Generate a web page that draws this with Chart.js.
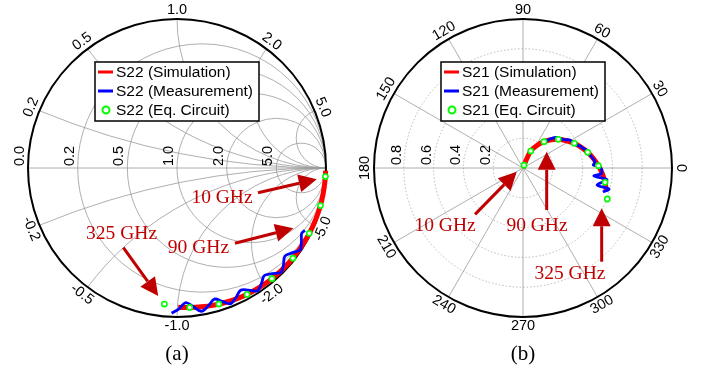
<!DOCTYPE html>
<html>
<head>
<meta charset="utf-8">
<script src="https://cdn.jsdelivr.net/npm/chart.js@4.4.0/dist/chart.umd.min.js"></script>
<style>
  html, body { margin: 0; padding: 0; background: #fff; }
  #wrap { position: relative; width: 707px; height: 372px; overflow: hidden; }
  canvas { position: absolute; top: 0; }
  #smith { left: 0; }
  #polar { left: 346px; }
</style>
</head>
<body>
<div id="wrap">
  <canvas id="smith" width="354" height="372"></canvas>
  <canvas id="polar" width="354" height="372"></canvas>
</div>
<script>
// S22 (reflection), magnitude and phase in degrees
const s22SimDeg = [-1, -5, -10, -15, -20, -25, -30, -35, -40, -45, -50, -55, -60, -65, -70, -75, -80, -85, -89.5];
const s22SimMag = [0.998, 0.997, 0.996, 0.995, 0.993, 0.991, 0.989, 0.986, 0.984, 0.981, 0.978, 0.974, 0.970, 0.965, 0.959, 0.953, 0.946, 0.940, 0.935];
const s22MeasDeg = [-92.1, -89.2, -86.3, -83.4, -80.4, -77.3, -74.1, -71.3, -68.5, -65.5, -62.5, -59.6, -56.7, -53.8, -50.9, -48.0, -45.1, -42.2, -39.3, -36.4, -33.5, -30.6, -27.7, -26.0];
const s22MeasMag = [0.975, 0.945, 0.905, 0.935, 0.975, 0.950, 0.915, 0.945, 0.980, 0.955, 0.925, 0.950, 0.985, 0.960, 0.930, 0.955, 0.988, 0.965, 0.935, 0.960, 0.992, 0.970, 0.945, 0.955];
const s22EqDeg = [-3.3, -14.7, -26.3, -37.9, -49.4, -61.0, -72.9, -84.8, -95.3];
const s22EqMag = [0.998, 0.995, 0.990, 0.986, 0.979, 0.970, 0.955, 0.940, 0.917];

// S21 (transmission), magnitude and phase in degrees
const s21SimDeg = [72, 68, 65.6, 58, 51.4, 45, 39.1, 32, 25.7, 19.5, 13.6, 7.5, 1.7, -4, -9.9, -15];
const s21SimMag = [0, 0.06, 0.125, 0.18, 0.226, 0.268, 0.305, 0.345, 0.382, 0.415, 0.447, 0.478, 0.506, 0.533, 0.559, 0.578];
const s21MeasDeg = [50, 47, 43, 38.7, 34.5, 30.8, 26.2, 21, 18, 15.8, 11, 5, 2.4, 1, -3.9, -6.4, -8.1, -12.9, -13.7, -16.7];
const s21MeasMag = [0.23, 0.266, 0.30, 0.318, 0.335, 0.367, 0.376, 0.41, 0.425, 0.444, 0.458, 0.485, 0.472, 0.517, 0.529, 0.479, 0.57, 0.51, 0.594, 0.56];
const s21EqDeg = [70, 65.6, 51.4, 39.1, 25.7, 13.6, 1.7, -9.9, -20.2];
const s21EqMag = [0.02, 0.125, 0.226, 0.305, 0.382, 0.447, 0.506, 0.559, 0.603];

// grid ticks
const smithRes = [0, 0.2, 0.5, 1, 2, 5];
const smithReact = [0.2, 0.5, 1, 2, 5, -0.2, -0.5, -1, -2, -5];
const polarRings = [0.2, 0.4, 0.6, 0.8];
const polarAngles = [0, 30, 60, 90, 120, 150, 180, 210, 240, 270, 300, 330];

const darkRed = '#C00000';
const tickFont = '14.5px "Liberation Sans", Arial, sans-serif';

function toXY(mag, deg) {
    return mag.map((m, i) => ({
        x: m * Math.cos(deg[i] * Math.PI / 180),
        y: m * Math.sin(deg[i] * Math.PI / 180)
    }));
}

function geom(chart) {
    const sx = chart.scales.x, sy = chart.scales.y;
    const cx = sx.getPixelForValue(0), cy = sy.getPixelForValue(0);
    return { sx, sy, cx, cy, R: sx.getPixelForValue(1) - cx };
}

function rimLabel(ctx, cx, cy, rad, deg, text) {
    let d = deg > 180 ? deg - 360 : deg;
    const t = d * Math.PI / 180;
    const rot = d >= 0 ? 90 - d : -90 - d;
    ctx.save();
    ctx.translate(cx + rad * Math.cos(t), cy - rad * Math.sin(t));
    ctx.rotate(rot * Math.PI / 180);
    ctx.textAlign = 'center';
    ctx.textBaseline = 'middle';
    ctx.fillText(text, 0, 0);
    ctx.restore();
}

function axisLabel(ctx, px, py, text) {
    ctx.save();
    ctx.translate(px, py);
    ctx.rotate(-Math.PI / 2);
    ctx.textAlign = 'left';
    ctx.textBaseline = 'middle';
    ctx.fillText(text, 0, 0);
    ctx.restore();
}

function drawArrow(ctx, x0, y0, x1, y1) {
    const a = Math.atan2(y1 - y0, x1 - x0);
    const hl = 18, hw = 9;
    const bx = x1 - hl * Math.cos(a), by = y1 - hl * Math.sin(a);
    ctx.save();
    ctx.strokeStyle = darkRed;
    ctx.fillStyle = darkRed;
    ctx.lineWidth = 3;
    ctx.beginPath();
    ctx.moveTo(x0, y0);
    ctx.lineTo(bx, by);
    ctx.stroke();
    ctx.beginPath();
    ctx.moveTo(x1, y1);
    ctx.lineTo(bx + hw * Math.sin(a), by - hw * Math.cos(a));
    ctx.lineTo(bx - hw * Math.sin(a), by + hw * Math.cos(a));
    ctx.closePath();
    ctx.fill();
    ctx.restore();
}

// legend box, annotations and caption
const extras = {
    id: 'extras',
    afterDraw(chart, args, opts) {
        const { ctx, chartArea } = chart;
        const g = geom(chart);
        // legend
        const bx = chartArea.left + 67, by = chartArea.top + 43, bw = 164, bh = 59;
        ctx.save();
        ctx.fillStyle = '#fff';
        ctx.fillRect(bx, by, bw, bh);
        ctx.strokeStyle = '#000';
        ctx.lineWidth = 1.5;
        ctx.strokeRect(bx, by, bw, bh);
        ctx.font = '15.5px "Liberation Sans", Arial, sans-serif';
        ctx.textBaseline = 'middle';
        ctx.fillStyle = '#000';
        chart.data.datasets.forEach((ds, i) => {
            const yy = by + 10 + i * 19;
            if (ds.showLine) {
                ctx.strokeStyle = ds.borderColor;
                ctx.lineWidth = 3;
                ctx.beginPath();
                ctx.moveTo(bx + 3, yy);
                ctx.lineTo(bx + 18, yy);
                ctx.stroke();
            } else {
                ctx.strokeStyle = ds.borderColor;
                ctx.lineWidth = 2;
                ctx.beginPath();
                ctx.arc(bx + 11, yy, 3.5, 0, 2 * Math.PI);
                ctx.stroke();
            }
            ctx.fillText(ds.label, bx + 21, yy + 1);
        });
        // annotations
        ctx.font = '19.5px "Liberation Serif", "Times New Roman", serif';
        ctx.fillStyle = darkRed;
        ctx.textAlign = 'center';
        ctx.textBaseline = 'middle';
        opts.notes.forEach(n => {
            ctx.fillText(n.text, g.sx.getPixelForValue(n.tx), g.sy.getPixelForValue(n.ty));
            drawArrow(ctx, g.sx.getPixelForValue(n.ax), g.sy.getPixelForValue(n.ay),
                g.sx.getPixelForValue(n.hx), g.sy.getPixelForValue(n.hy));
        });
        // caption
        ctx.font = '21px "Liberation Serif", "Times New Roman", serif';
        ctx.fillStyle = '#000';
        ctx.fillText(opts.caption, g.cx, 354);
        ctx.restore();
    }
};

const smithGrid = {
    id: 'smithGrid',
    beforeDatasetsDraw(chart) {
        const { ctx } = chart;
        const { cx, cy, R } = geom(chart);
        ctx.save();
        ctx.beginPath();
        ctx.arc(cx, cy, R, 0, 2 * Math.PI);
        ctx.clip();
        ctx.strokeStyle = '#9a9a9a';
        ctx.lineWidth = 0.8;
        ctx.beginPath();
        ctx.moveTo(cx - R, cy);
        ctx.lineTo(cx + R, cy);
        ctx.stroke();
        smithRes.filter(r => r > 0).forEach(r => {
            ctx.beginPath();
            ctx.arc(cx + R * r / (1 + r), cy, R / (1 + r), 0, 2 * Math.PI);
            ctx.stroke();
        });
        smithReact.forEach(v => {
            ctx.beginPath();
            ctx.arc(cx + R, cy - R / v, R / Math.abs(v), 0, 2 * Math.PI);
            ctx.stroke();
        });
        ctx.restore();
        ctx.save();
        ctx.strokeStyle = '#000';
        ctx.lineWidth = 2;
        ctx.beginPath();
        ctx.arc(cx, cy, R, 0, 2 * Math.PI);
        ctx.stroke();
        ctx.restore();
    },
    afterDraw(chart) {
        const { ctx } = chart;
        const { cx, cy, R } = geom(chart);
        ctx.save();
        ctx.font = tickFont;
        ctx.fillStyle = '#000';
        smithRes.forEach(r => {
            const gx = (r - 1) / (r + 1);
            axisLabel(ctx, cx + gx * R - 8, cy - 2, r.toFixed(1));
        });
        smithReact.forEach(v => {
            const deg = Math.atan2(2 * v, v * v - 1) * 180 / Math.PI;
            rimLabel(ctx, cx, cy, R + 9, deg, v.toFixed(1));
        });
        ctx.restore();
    }
};

const polarGrid = {
    id: 'polarGrid',
    beforeDatasetsDraw(chart) {
        const { ctx } = chart;
        const { cx, cy, R } = geom(chart);
        ctx.save();
        ctx.strokeStyle = '#a8a8a8';
        ctx.lineWidth = 0.8;
        ctx.setLineDash([1.5, 2]);
        polarRings.forEach(r => {
            ctx.beginPath();
            ctx.arc(cx, cy, r * R, 0, 2 * Math.PI);
            ctx.stroke();
        });
        ctx.setLineDash([]);
        ctx.strokeStyle = '#9a9a9a';
        polarAngles.forEach(a => {
            const t = a * Math.PI / 180;
            ctx.beginPath();
            ctx.moveTo(cx, cy);
            ctx.lineTo(cx + R * Math.cos(t), cy - R * Math.sin(t));
            ctx.stroke();
        });
        ctx.strokeStyle = '#000';
        ctx.lineWidth = 2;
        ctx.beginPath();
        ctx.arc(cx, cy, R, 0, 2 * Math.PI);
        ctx.stroke();
        ctx.restore();
    },
    afterDraw(chart) {
        const { ctx } = chart;
        const { cx, cy, R } = geom(chart);
        ctx.save();
        ctx.font = tickFont;
        ctx.fillStyle = '#000';
        polarRings.forEach(r => axisLabel(ctx, cx - r * R - 7, cy - 3, r.toFixed(1)));
        polarAngles.forEach(a => rimLabel(ctx, cx, cy, R + 9, a, String(a)));
        ctx.restore();
    }
};

function makeChart(id, name, sim, meas, eq, grid, notes, caption) {
    const ctx = document.getElementById(id).getContext('2d');
    return new Chart(ctx, {
        type: 'scatter',
        data: {
            datasets: [{
                label: name + ' (Simulation)',
                data: sim,
                showLine: true,
                borderColor: '#FF0000',
                borderWidth: 5,
                pointRadius: 0,
                tension: 0.3,
                order: 3,
                clip: false
            }, {
                label: name + ' (Measurement)',
                data: meas,
                showLine: true,
                borderColor: '#0000FF',
                borderWidth: 2.8,
                pointRadius: 0,
                tension: 0.35,
                order: 2,
                clip: false
            }, {
                label: name + ' (Eq. Circuit)',
                data: eq,
                showLine: false,
                borderColor: '#00FF00',
                backgroundColor: '#FFFFFF',
                borderWidth: 1.6,
                pointRadius: 2.6,
                order: 1,
                clip: false
            }]
        },
        options: {
            responsive: false,
            animation: false,
            devicePixelRatio: 1,
            layout: { padding: { left: 28, right: 28, top: 19, bottom: 55 } },
            scales: {
                x: { type: 'linear', min: -1, max: 1, display: false },
                y: { type: 'linear', min: -1, max: 1, display: false }
            },
            plugins: {
                legend: { display: false },
                tooltip: { enabled: false },
                extras: { notes: notes, caption: caption }
            }
        },
        plugins: [grid, extras]
    });
}

makeChart('smith', 'S22',
    toXY(s22SimMag, s22SimDeg), toXY(s22MeasMag, s22MeasDeg), toXY(s22EqMag, s22EqDeg),
    smithGrid,
    [
        { text: '10 GHz', tx: 0.302, ty: -0.198, ax: 0.544, ay: -0.166, hx: 0.938, hy: -0.076 },
        { text: '90 GHz', tx: 0.144, ty: -0.534, ax: 0.389, ay: -0.505, hx: 0.781, hy: -0.405 },
        { text: '325 GHz', tx: -0.372, ty: -0.44, ax: -0.36, ay: -0.535, hx: -0.126, hy: -0.859 }
    ], '(a)');

makeChart('polar', 'S21',
    toXY(s21SimMag, s21SimDeg), toXY(s21MeasMag, s21MeasDeg), toXY(s21EqMag, s21EqDeg),
    polarGrid,
    [
        { text: '10 GHz', tx: -0.523, ty: -0.386, ax: -0.322, ay: -0.311, hx: -0.042, hy: -0.025 },
        { text: '90 GHz', tx: 0.094, ty: -0.386, ax: 0.159, ay: -0.282, hx: 0.159, hy: 0.109 },
        { text: '325 GHz', tx: 0.315, ty: -0.713, ax: 0.528, ay: -0.629, hx: 0.528, hy: -0.27 }
    ], '(b)');
</script>
</body>
</html>
